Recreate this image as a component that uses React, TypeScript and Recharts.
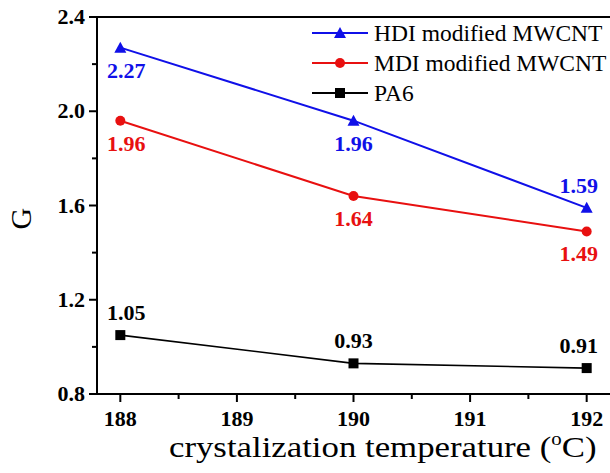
import { LineChart, Line, XAxis, YAxis, ReferenceLine, LabelList } from "recharts";

const temps = [188, 190, 192];
const hdi = [2.27, 1.96, 1.59];
const mdi = [1.96, 1.64, 1.49];
const pa6 = [1.05, 0.93, 0.91];
const xTicks = [188, 188.5, 189, 189.5, 190, 190.5, 191, 191.5, 192];
const yTicks = [0.8, 1.0, 1.2, 1.4, 1.6, 1.8, 2.0, 2.2, 2.4];

const data = temps.map((t, i) => ({ t, hdi: hdi[i], mdi: mdi[i], pa6: pa6[i] }));

const SERIF = "'Liberation Serif', 'Times New Roman', serif";

const series = [
  { key: "hdi", name: "HDI modified MWCNT", color: "#1010e8", shape: "triangle", below: [true, true, false] },
  { key: "mdi", name: "MDI modified MWCNT", color: "#e81010", shape: "circle", below: [true, true, true] },
  { key: "pa6", name: "PA6", color: "#000000", shape: "square", below: [false, false, false] },
];

function Marker({ cx, cy, shape, color }: any) {
  if (cx == null || cy == null) return null;
  if (shape === "triangle")
    return <polygon points={`${cx},${cy - 6} ${cx - 6},${cy + 5} ${cx + 6},${cy + 5}`} fill={color} />;
  if (shape === "circle") return <circle cx={cx} cy={cy} r={5} fill={color} />;
  return <rect x={cx - 5} y={cy - 5} width={10} height={10} fill={color} />;
}

function XTick({ x, y, payload, index }: any) {
  const minor = index % 2 === 1;
  return (
    <g>
      <line x1={x} x2={x} y1={y} y2={y + (minor ? 5 : 8)} stroke="#000" strokeWidth={2} />
      {!minor && (
        <text x={x} y={y + 32} textAnchor="middle" fontFamily={SERIF} fontWeight="bold" fontSize={22} fill="#000">
          {payload.value}
        </text>
      )}
    </g>
  );
}

function YTick({ x, y, payload, index }: any) {
  const minor = index % 2 === 1;
  return (
    <g>
      <line x1={x} x2={x - (minor ? 5 : 8)} y1={y} y2={y} stroke="#000" strokeWidth={2} />
      {!minor && (
        <text x={x - 12} y={y + 7} textAnchor="end" fontFamily={SERIF} fontWeight="bold" fontSize={22} fill="#000">
          {Number(payload.value).toFixed(1)}
        </text>
      )}
    </g>
  );
}

function makeLabel(color: string, below: boolean[]) {
  return (props: any) => {
    const { x, y, value, index } = props;
    const dx = index === 0 ? 6 : index === 2 ? -8 : 0;
    const dy = below[index] ? 30 : -15;
    return (
      <text x={x + dx} y={y + dy} textAnchor="middle" fontFamily={SERIF} fontWeight="bold" fontSize={22} fill={color}>
        {Number(value).toFixed(2)}
      </text>
    );
  };
}

function LegendBox() {
  return (
    <div style={{ position: "absolute", left: 312, top: 18, fontFamily: SERIF, fontSize: 23.5, color: "#000" }}>
      {series.map((s) => (
        <div key={s.key} style={{ display: "flex", alignItems: "center", height: 30 }}>
          <svg width={62} height={20}>
            <line x1={0} x2={56} y1={10} y2={10} stroke={s.color} strokeWidth={2} />
            <Marker cx={28} cy={10} shape={s.shape} color={s.color} />
          </svg>
          <span style={{ whiteSpace: "nowrap" }}>{s.name}</span>
        </div>
      ))}
    </div>
  );
}

export default function App() {
  return (
    <div style={{ position: "absolute", left: 0, top: 0, width: 610, height: 473, background: "#fff", overflow: "hidden" }}>
      <LineChart width={610} height={473} data={data} margin={{ top: 17, right: 0, bottom: 0, left: 0 }}>
        <XAxis
          dataKey="t"
          type="number"
          domain={[187.8, 192.2]}
          ticks={xTicks}
          interval={0}
          allowDataOverflow
          height={79}
          tickSize={0}
          tickMargin={0}
          tickLine={false}
          axisLine={{ stroke: "#000", strokeWidth: 2 }}
          tick={<XTick />}
          label={{
            content: (p: any) => {
              const vb = p.viewBox;
              const cx = vb.x + vb.width * 0.557;
              return (
                <text
                  x={cx}
                  y={vb.y + 63}
                  transform={`translate(${cx} 0) scale(1.16 1) translate(${-cx} 0)`}
                  textAnchor="middle"
                  fontFamily={SERIF}
                  fontSize={30}
                  fill="#000"
                >
                  crystalization temperature (<tspan dy={-12} fontSize={18}>o</tspan>
                  <tspan dy={12}>C)</tspan>
                </text>
              );
            },
          }}
        />
        <YAxis
          type="number"
          domain={[0.8, 2.4]}
          ticks={yTicks}
          interval={0}
          allowDataOverflow
          width={97}
          tickSize={0}
          tickMargin={0}
          tickLine={false}
          axisLine={{ stroke: "#000", strokeWidth: 2 }}
          tick={<YTick />}
          label={{
            content: (p: any) => {
              const vb = p.viewBox;
              const cx = vb.x + 21;
              const cy = vb.y + vb.height * 0.535;
              return (
                <text x={cx} y={cy} transform={`rotate(-90 ${cx} ${cy})`} textAnchor="middle" dominantBaseline="central" fontFamily={SERIF} fontSize={30} fill="#000">
                  G
                </text>
              );
            },
          }}
        />
        <ReferenceLine y={2.4} stroke="#000" strokeWidth={2} />
        {series.map((s) => (
          <Line
            key={s.key}
            dataKey={s.key}
            name={s.name}
            stroke={s.color}
            strokeWidth={s.key === "pa6" ? 1.6 : 2}
            isAnimationActive={false}
            dot={(p: any) => <Marker key={`${s.key}-${p.index}`} cx={p.cx} cy={p.cy} shape={s.shape} color={s.color} />}
            activeDot={false}
          >
            <LabelList dataKey={s.key} content={makeLabel(s.color, s.below)} />
          </Line>
        ))}
      </LineChart>
      <LegendBox />
    </div>
  );
}
